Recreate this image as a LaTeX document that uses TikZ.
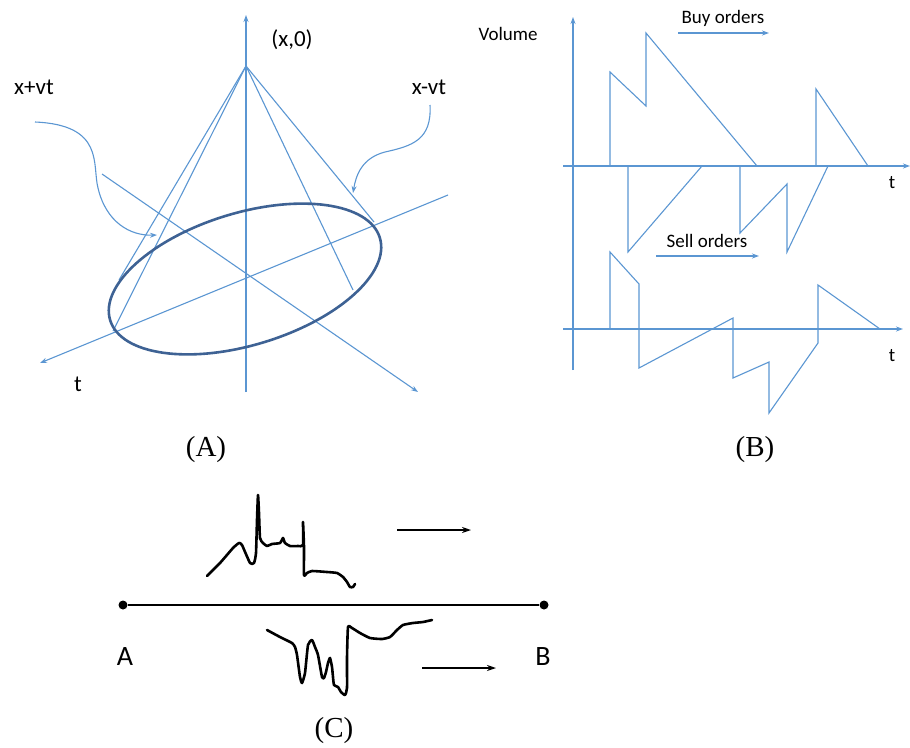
\documentclass[tikz,border=0pt]{standalone}
\usepackage{fontspec}
\setmainfont{Liberation Serif}
\newfontfamily\calibri{Carlito}
\usepackage{tikz}
\usetikzlibrary{arrows.meta, positioning, calc}

\definecolor{axisblue}{RGB}{91,150,210}
\definecolor{ringblue}{RGB}{62,98,148}

\begin{document}
\begin{tikzpicture}[x=1pt, y=-1pt,
    axis/.style={draw=axisblue, line width=1.1pt},
    arrow/.style={axis, -{Stealth[length=7pt, width=5pt]}},
    ring/.style={draw=ringblue, line width=2.6pt},
    trace/.style={draw=black, line width=2.6pt, line join=round, line cap=round},
    blackarrow/.style={draw=black, line width=1.3pt, -{Stealth[length=9pt, width=6pt]}},
    lbl/.style={font=\calibri\fontsize{23}{26}\selectfont, inner sep=0pt},
    lblsmall/.style={font=\calibri\fontsize{19}{22}\selectfont, inner sep=0pt},
    panel/.style={font=\fontsize{29}{32}\selectfont, inner sep=0pt},
    dot/.style={circle, fill=black, inner sep=0pt, minimum size=9pt}
]
\useasboundingbox (0,0) rectangle (910,747);

% ---- panel (A): light cone
\coordinate (apex) at (246,66);
\draw[arrow] (246,392) -- (246,15);
\draw[arrow] (448,195) -- (40,363);
\draw[arrow] (102,174) -- (418,392);
\draw[axis] (apex) -- (113,331);
\draw[axis] (apex) -- (119,280);
\draw[axis] (apex) -- (353,290);
\draw[axis] (apex) -- (374,222);
\draw[ring] (245,279) ellipse[x radius=141, y radius=66, rotate=17];

\node[lbl] (xzero) at (292,40) {(x,0)};
\node[lbl] (plus) at (34,87) {x+vt};
\node[lbl] (minus) at (429,87) {x-vt};
\node[lbl] (tA) at (78,384) {t};

\coordinate (plusstart) at (35,122);
\coordinate (plusend) at (157,235);
\coordinate (minusstart) at (430,105);
\coordinate (minusend) at (353,193);
\draw[arrow] (plusstart) .. controls (105,125) and (92,165) .. (98,188)
    .. controls (106,222) and (130,236) .. (plusend);
\draw[arrow] (minusstart) .. controls (432,140) and (412,146) .. (385,152)
    .. controls (362,158) and (356,175) .. (minusend);

\node[panel] (capA) at (206,450) {(A)};

% ---- panel (B): order volumes
\draw[arrow] (573,370) -- (573,17);
\draw[arrow] (563,166) -- (910,166);
\draw[arrow] (563,329) -- (903,329);
\node[lblsmall] (vol) at (508,34) {Volume};
\node[lblsmall] (tB1) at (892,183) {t};
\node[lblsmall] (tB2) at (892,356) {t};

\node[lblsmall] (buy) at (723,18) {Buy orders};
\coordinate (buyfrom) at (678,33);
\coordinate (buyto) at (769,33);
\draw[arrow] (buyfrom) -- (buyto);
\node[lblsmall] (sell) at (707,241) {Sell orders};
\coordinate (sellfrom) at (656,256);
\coordinate (sellto) at (759,256);
\draw[arrow] (sellfrom) -- (sellto);

\draw[axis] (610,166) -- (610,72) -- (646,106) -- (646,33) -- (757,166);
\draw[axis] (816,166) -- (816,89) -- (868,166);
\draw[axis] (628,166) -- (628,252) -- (702,166);
\draw[axis] (740,166) -- (740,233) -- (787,184) -- (787,252) -- (828,166);
\draw[axis] (610,329) -- (610,252) -- (639,284) -- (639,368) -- (733,318)
    -- (733,378) -- (769,362) -- (769,413) -- (818,343) -- (818,285) -- (880,329);

\node[panel] (capB) at (755,450) {(B)};

% ---- panel (C): market between A and B
\node[dot] (ptA) at (123,605) {};
\node[dot] (ptB) at (544,605) {};
\draw[black, line width=2pt] (ptA) -- (ptB);
\node[lbl, font=\calibri\fontsize{28}{30}\selectfont] (nameA) at (125,657) {A};
\node[lbl, font=\calibri\fontsize{28}{30}\selectfont] (nameB) at (543,657) {B};

\coordinate (upfrom) at (397,530);
\coordinate (upto) at (471,530);
\draw[blackarrow] (upfrom) -- (upto);
\coordinate (lowfrom) at (422,668);
\coordinate (lowto) at (496,668);
\draw[blackarrow] (lowfrom) -- (lowto);

\draw[trace] plot[smooth, tension=0.3] coordinates {
    (207,576) (220,563) (233,548) (239,543) (242,545) (250,563) (254,563)
    (256,553) (257,520) (258,495) (259,513) (260,538) (263,543) (267,546)
    (272,544) (280,543) (283,538) (285,543) (290,546) (298,546) (303,545)
    (303,522) (304,547) (304,575) (307,573) (312,571) (327,572) (337,573)
    (343,577) (347,582) (350,587) (353,587) (355,584)};
\draw[trace] plot[smooth, tension=0.3] coordinates {
    (267,630) (280,637) (292,643) (295,647) (297,655) (300,677) (302,683)
    (305,673) (308,645) (312,640) (315,647) (318,655) (322,677) (324,678)
    (326,672) (328,663) (330,658) (332,667) (333,677) (334,685) (338,687)
    (341,692) (345,695) (347,688) (347,658) (348,627) (352,628) (360,633)
    (370,638) (382,639) (390,637) (397,630) (403,625) (413,623) (423,622)
    (432,620)};

\node[panel] (capC) at (334,731) {(C)};
\end{tikzpicture}
\end{document}
